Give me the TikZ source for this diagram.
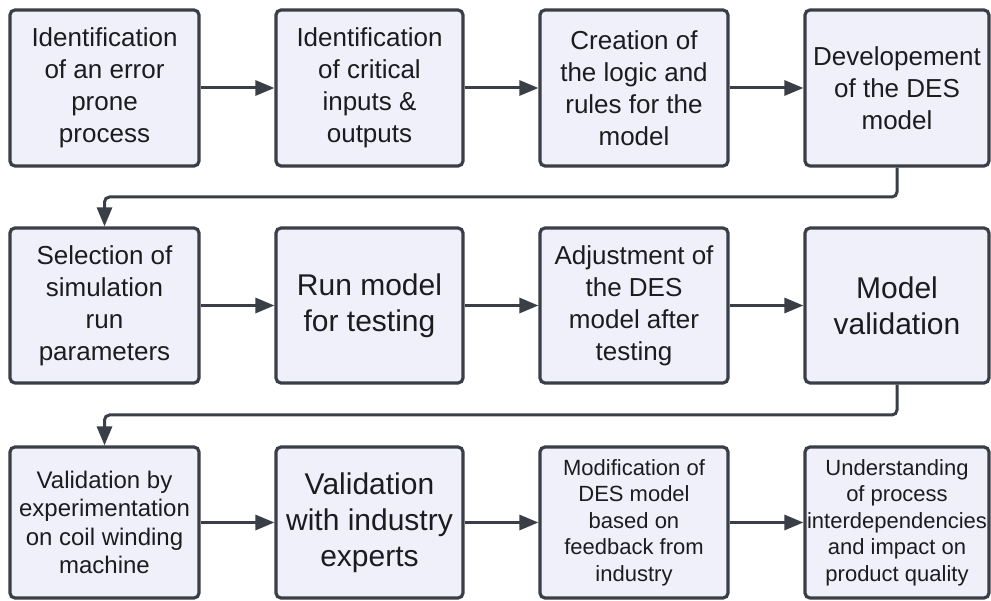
\documentclass[tikz,border=0pt]{standalone}
\usepackage{fontspec}
\setmainfont{Liberation Sans}
\usetikzlibrary{arrows.meta}
\definecolor{boxfill}{RGB}{240,240,251}
\definecolor{boxline}{RGB}{58,62,70}
\definecolor{ink}{RGB}{28,28,30}

\begin{document}
\begin{tikzpicture}[x=1pt,y=-1pt,
  stepbox/.style={draw=boxline, fill=boxfill, line width=3.2pt, rounded corners=5pt,
    inner sep=0pt, align=center, text=ink},
  flow/.style={draw=boxline, line width=3pt, rounded corners=5pt,
    -{Triangle[length=19pt,width=15pt]}},
  fnorm/.style={font=\fontsize{26}{32}\selectfont},
  fbig/.style={font=\fontsize{30}{36}\selectfont},
  fmid/.style={font=\fontsize{24}{28.5}\selectfont},
  fsmall/.style={font=\fontsize{22}{26.5}\selectfont},
  colA/.style={minimum width=189pt},
  colB/.style={minimum width=187pt},
  colC/.style={minimum width=188pt},
  colD/.style={minimum width=184pt},
  rowA/.style={minimum height=156pt},
  rowB/.style={minimum height=155pt},
  rowC/.style={minimum height=151pt}]
\useasboundingbox (0,0) rectangle (991,601);

% first row
\node[stepbox, colA, rowA, fnorm] (a1) at (104.5,88)
  {Identification\\of an error\\prone\\process};
\node[stepbox, colB, rowA, fnorm] (a2) at (369.5,88)
  {Identification\\of critical\\inputs \&\\outputs};
\node[stepbox, colC, rowA, fnorm] (a3) at (634,88)
  {Creation of\\the logic and\\rules for the\\model};
\node[stepbox, colD, rowA, fnorm] (a4) at (897,88)
  {Developement\\of the DES\\model};

% second row
\node[stepbox, colA, rowB, fnorm] (b1) at (104.5,305.5)
  {Selection of\\simulation\\run\\parameters};
\node[stepbox, colB, rowB, fbig] (b2) at (369.5,305.5)
  {Run model\\for testing};
\node[stepbox, colC, rowB, fnorm] (b3) at (634,305.5)
  {Adjustment of\\the DES\\model after\\testing};
\node[stepbox, colD, rowB, fbig] (b4) at (897,305.5)
  {Model\\validation};

% third row
\node[stepbox, colA, rowC, fmid] (c1) at (104.5,522.5)
  {Validation by\\experimentation\\on coil winding\\machine};
\node[stepbox, colB, rowC, fbig] (c2) at (369.5,522.5)
  {Validation\\with industry\\experts};
\node[stepbox, colC, rowC, fsmall] (c3) at (634,522.5)
  {Modification of\\DES model\\based on\\feedback from\\industry};
\node[stepbox, colD, rowC, fsmall] (c4) at (897,522.5)
  {Understanding\\of process\\interdependencies\\and impact on\\product quality};

% horizontal links
\draw[flow] (a1) -- (a2);
\draw[flow] (a2) -- (a3);
\draw[flow] (a3) -- (a4);
\draw[flow] (b1) -- (b2);
\draw[flow] (b2) -- (b3);
\draw[flow] (b3) -- (b4);
\draw[flow] (c1) -- (c2);
\draw[flow] (c2) -- (c3);
\draw[flow] (c3) -- (c4);

% row wrap-arounds
\coordinate (w1) at (0,197);
\coordinate (w2) at (0,415);
\draw[flow] (a4.south) -- (a4.south |- w1) -- (b1.north |- w1) -- (b1.north);
\draw[flow] (b4.south) -- (b4.south |- w2) -- (c1.north |- w2) -- (c1.north);
\end{tikzpicture}
\end{document}
